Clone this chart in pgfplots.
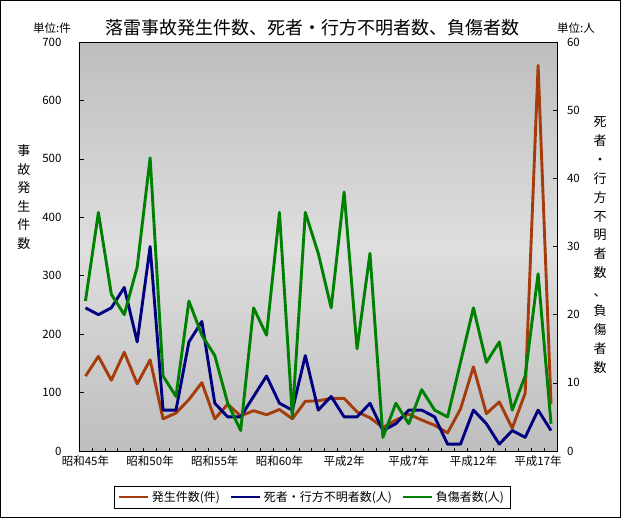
\documentclass[border=0pt]{standalone}
\usepackage{fontspec}
\setmainfont{Noto Sans CJK JP}
\usepackage{pgfplots}
\pgfplotsset{compat=1.18}

\definecolor{hassei}{RGB}{165,60,12}
\definecolor{shisha}{RGB}{0,0,128}
\definecolor{fusho}{RGB}{0,128,0}
\definecolor{bgedge}{RGB}{190,190,190}
\definecolor{bgmid}{RGB}{222,222,222}

% 昭和45年(1970) .. 平成18年(2006) -> 0..36
\pgfplotstableread{
i   kensu
0   128
1   162
2   121
3   169
4   115
5   156
6   55
7   65
8   88
9   117
10  55
11  80
12  60
13  69
14  62
15  71
16  55
17  85
18  86
19  90
20  90
21  67
22  57
23  40
24  53
25  63
26  53
27  44
28  31
29  72
30  144
31  64
32  84
33  39
34  99
35  660
36  80
}\kensutable

\pgfplotstableread{
i   shisha  fusho
0   21   22
1   20   35
2   21   23
3   24   20
4   16   27
5   30   43
6   6    11
7   6    8
8   16   22
9   19   17
10  7    14
11  5    7
12  5    3
13  8    21
14  11   17
15  7    35
16  6    5
17  14   35
18  6    29
19  8    21
20  5    38
21  5    15
22  7    29
23  3    2
24  4    7
25  6    4
26  6    9
27  5    6
28  1    5
29  1    13
30  6    21
31  4    13
32  1    16
33  3    6
34  2    11
35  6    26
36  3    4
}\jinintable

\pgfplotsset{
  common/.style={
    at={(0,0)}, anchor=south west,
    scale only axis, width=478.5pt, height=409pt,
    xmin=-0.5, xmax=36.5,
    tick align=inside,
    major tick length=5pt,
    tick style={black, line width=0.6pt},
    ticklabel style={font=\fontsize{11.5}{13}\selectfont},
    /pgf/number format/assume math mode=true,
  },
  serie/.style={line width=2.9pt, line join=round, mark=none},
}

\begin{document}
\begin{tikzpicture}[x=1pt,y=1pt]
\useasboundingbox (-79,-68) rectangle (543,451);
\draw[black, line width=0.8pt] (-78.6,-66) rectangle (541,450.6);

\begin{axis}[common,
    ymin=0, ymax=700, ytick={0,100,...,700},
    ytick pos=left,
    xtick={0,5,...,35},
    xticklabels={昭和45年,昭和50年,昭和55年,昭和60年,平成2年,平成7年,平成12年,平成17年},
    xtick pos=bottom,
    major x tick style={draw=none},
    minor xtick={-0.5,0.5,...,36.5},
    minor tick length=3pt,
    xticklabel style={yshift=-1pt},
    yticklabel style={xshift=-14pt},
    axis line style={black, line width=0.8pt},
    axis background/.style={top color=bgedge, bottom color=bgedge, middle color=bgmid},
]
\addplot[serie, hassei] table[x=i, y=kensu] {\kensutable};
\end{axis}

\begin{axis}[common,
    ymin=0, ymax=60, ytick={0,10,...,60},
    axis x line=none,
    axis y line*=right,
    yticklabel style={xshift=6pt},
    axis line style={black, line width=0.8pt},
    legend style={at={(0.487,-0.1125)}, anchor=center, draw=black, fill=white,
      line width=0.6pt, font=\fontsize{12}{14}\selectfont,
      inner xsep=4pt, inner ysep=3pt,
      /tikz/every even column/.append style={column sep=8pt}},
    legend columns=3,
    legend image code/.code={\draw[#1, line width=2.9pt] (0pt,0pt) -- (29pt,0pt);},
]
\addlegendimage{hassei}
\addlegendentry{発生件数(件)}
\addplot[serie, shisha] table[x=i, y=shisha] {\jinintable};
\addlegendentry{死者・行方不明者数(人)}
\addplot[serie, fusho] table[x=i, y=fusho] {\jinintable};
\addlegendentry{負傷者数(人)}
\end{axis}

\node[font=\fontsize{18}{20}\selectfont] at (234,423) {落雷事故発生件数、死者・行方不明者数、負傷者数};
\node[font=\fontsize{11.5}{13}\selectfont] at (-27,423) {単位:件};
\node[font=\fontsize{11.5}{13}\selectfont] at (497,423) {単位:人};
\node[font=\fontsize{13}{18.5}\selectfont, align=center] at (-55,254)
  {事\\故\\発\\生\\件\\数};
\node[font=\fontsize{13}{18.9}\selectfont, align=center] at (521,206)
  {死\\者\\・\\行\\方\\不\\明\\者\\数\\、\\負\\傷\\者\\数};
\end{tikzpicture}
\end{document}
